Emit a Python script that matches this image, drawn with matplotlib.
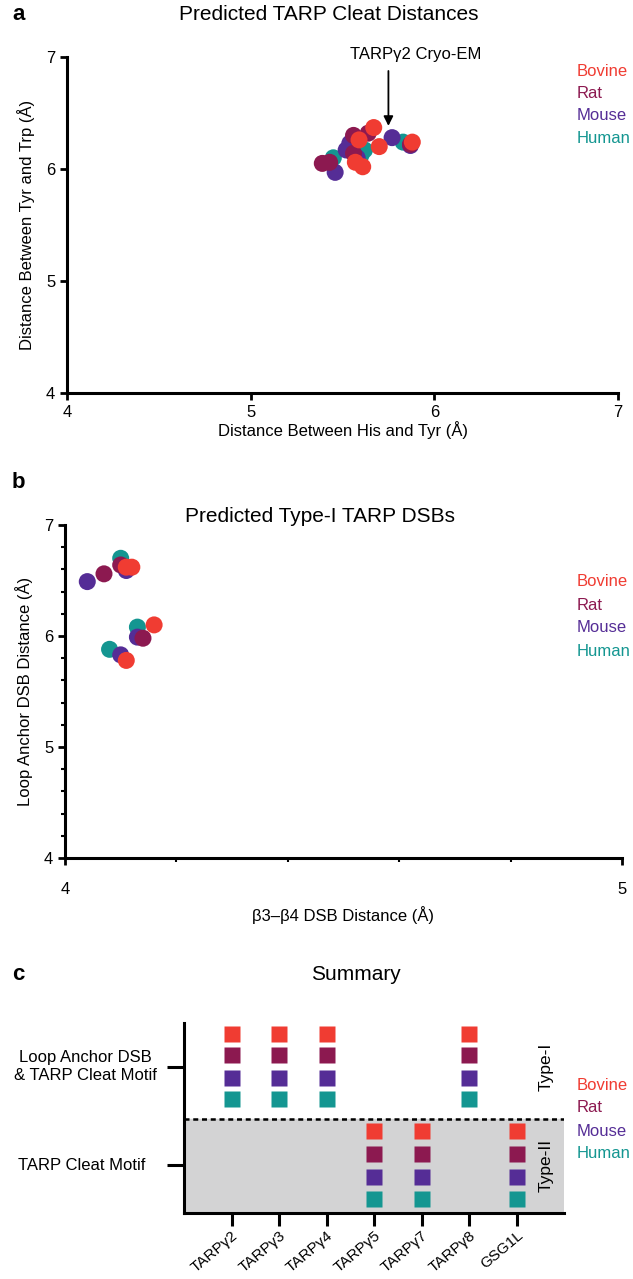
import numpy as np
import matplotlib
matplotlib.use("Agg")
import matplotlib.pyplot as plt
from matplotlib.transforms import blended_transform_factory

plt.rcParams['font.family'] = ['Liberation Sans', 'DejaVu Sans']

species = ["Bovine", "Rat", "Mouse", "Human"]
colors = {"Bovine": "#F03C32", "Rat": "#8C1950", "Mouse": "#552D96", "Human": "#149691"}

# panel a: cleat distances (His-Tyr, Tyr-Trp)
a_his_tyr = {
    "Human":  [5.45, 5.62, 5.83, 5.60, 5.55],
    "Mouse":  [5.46, 5.54, 5.58, 5.77, 5.87, 5.52],
    "Rat":    [5.39, 5.43, 5.56, 5.56, 5.64, 5.87],
    "Bovine": [5.59, 5.57, 5.61, 5.67, 5.70, 5.88],
}
a_tyr_trp = {
    "Human":  [6.10, 6.17, 6.24, 6.12, 6.20],
    "Mouse":  [5.97, 6.23, 6.10, 6.28, 6.21, 6.17],
    "Rat":    [6.05, 6.06, 6.30, 6.14, 6.32, 6.22],
    "Bovine": [6.26, 6.06, 6.02, 6.37, 6.20, 6.24],
}
cryo_em = (5.75, 6.36)

# panel b: type-I DSBs
b_beta = {
    "Human":  [4.10, 4.13, 4.08],
    "Mouse":  [4.04, 4.11, 4.13, 4.10],
    "Rat":    [4.07, 4.10, 4.14],
    "Bovine": [4.11, 4.12, 4.16, 4.11],
}
b_loop = {
    "Human":  [6.70, 6.08, 5.88],
    "Mouse":  [6.49, 6.59, 5.99, 5.83],
    "Rat":    [6.56, 6.64, 5.98],
    "Bovine": [6.62, 6.62, 6.10, 5.78],
}

# panel c: summary
proteins = ["TARPγ2", "TARPγ3", "TARPγ4", "TARPγ5", "TARPγ7", "TARPγ8", "GSG1L"]
prot_type = ["I", "I", "I", "II", "II", "I", "II"]

fig = plt.figure(figsize=(6.33, 12.79), dpi=100)
H = 1279.0
W = 633.0

def legend(ytop, step=22.5):
    for i, s in enumerate(species):
        fig.text(577 / W, 1 - (ytop + i * step) / H, s, color=colors[s],
                 fontsize=12, va="center", ha="left")

def style(ax):
    for sp in ["top", "right"]:
        ax.spines[sp].set_visible(False)
    for sp in ["left", "bottom"]:
        ax.spines[sp].set_linewidth(2.2)
    ax.tick_params(width=2, length=5, labelsize=12, colors="black")
    ax.tick_params(which="minor", width=1.5, length=3)

# ---- a
ax1 = fig.add_axes([67 / W, 1 - 393 / H, 551 / W, 336 / H])
for s in ["Human", "Mouse", "Rat", "Bovine"]:
    ax1.scatter(a_his_tyr[s], a_tyr_trp[s], s=150, color=colors[s], edgecolors="none", zorder=3)
ax1.set_xlim(4, 7)
ax1.set_ylim(4, 7)
ax1.set_xticks([4, 5, 6, 7])
ax1.set_yticks([4, 5, 6, 7])
style(ax1)
ax1.set_xlabel("Distance Between His and Tyr (Å)", fontsize=12, labelpad=1)
ax1.set_ylabel("Distance Between Tyr and Trp (Å)", fontsize=12, labelpad=8)
ax1.annotate("", xy=cryo_em, xytext=(cryo_em[0], 6.9),
             arrowprops=dict(arrowstyle="-|>", color="black", lw=1.3, mutation_scale=14))
ax1.text(cryo_em[0] + 0.15, 7.02, "TARPγ2 Cryo-EM", ha="center", va="center", fontsize=12)
fig.text(0.52, 1 - 15 / H, "Predicted TARP Cleat Distances", ha="center", va="center", fontsize=15)
fig.text(12 / W, 1 - 15 / H, "a", fontsize=16, fontweight="bold", va="center")
legend(71)

# ---- b
ax2 = fig.add_axes([65 / W, 1 - 858 / H, 557 / W, 333 / H])
for s in ["Human", "Mouse", "Rat", "Bovine"]:
    ax2.scatter(b_beta[s], b_loop[s], s=150, color=colors[s], edgecolors="none", zorder=3)
ax2.set_xlim(4, 5)
ax2.set_ylim(4, 7)
ax2.set_xticks([4, 5])
ax2.set_xticks(np.arange(4, 5.01, 0.2), minor=True)
ax2.set_yticks([4, 5, 6, 7])
ax2.set_yticks(np.arange(4, 7.01, 0.2), minor=True)
style(ax2)
ax2.tick_params(axis="x", pad=12)
ax2.set_xlabel("β3–β4 DSB Distance (Å)", fontsize=12, labelpad=7)
ax2.set_ylabel("Loop Anchor DSB Distance (Å)", fontsize=12, labelpad=8)
fig.text(0.505, 1 - 516 / H, "Predicted Type-I TARP DSBs", ha="center", va="center", fontsize=15)
fig.text(12 / W, 1 - 483 / H, "b", fontsize=16, fontweight="bold", va="center")
legend(582, 23)

# ---- c
ax3 = fig.add_axes([184 / W, 1 - 1213 / H, 380 / W, 190 / H])
ax3.axhspan(0, 4.15, color="#D3D3D4", zorder=0)
ax3.axhline(4.15, color="black", lw=1.8, ls=(0, (2, 1.5)), zorder=1)
rows_I = [7.9, 6.95, 5.95, 5.0]
rows_II = [3.6, 2.6, 1.6, 0.6]
for i, (p, t) in enumerate(zip(proteins, prot_type)):
    ys = rows_I if t == "I" else rows_II
    for s, y in zip(species, ys):
        ax3.plot(i, y, marker="s", ms=11.5, color=colors[s], mec="none", ls="none", zorder=3)
ax3.set_xlim(-1, 7)
ax3.set_ylim(0, 8.37)
ax3.set_xticks(range(len(proteins)))
ax3.set_xticklabels(proteins, rotation=40, ha="right", rotation_mode="anchor", fontsize=11)
ax3.set_yticks([6.45, 2.1])
ax3.set_yticklabels([])
style(ax3)
ax3.tick_params(axis="x", length=9, width=2.2, pad=2, labelsize=11)
ax3.tick_params(axis="y", length=12, width=2.2)
tr = blended_transform_factory(ax3.transAxes, ax3.transData)
ax3.text(-0.26, 6.45, "Loop Anchor DSB\n& TARP Cleat Motif", transform=tr,
         ha="center", va="center", fontsize=12, linespacing=1.3)
ax3.text(-0.27, 2.1, "TARP Cleat Motif", transform=tr, ha="center", va="center", fontsize=12)
ax3.text(6.62, 6.45, "Type-I", rotation=90, ha="center", va="center", fontsize=12.5)
ax3.text(6.62, 2.1, "Type-II", rotation=90, ha="center", va="center", fontsize=12.5)
fig.text(356 / W, 1 - 975 / H, "Summary", ha="center", va="center", fontsize=15)
fig.text(12 / W, 1 - 975 / H, "c", fontsize=16, fontweight="bold", va="center")
legend(1085, 23)

fig.savefig("out.png", dpi=100)
